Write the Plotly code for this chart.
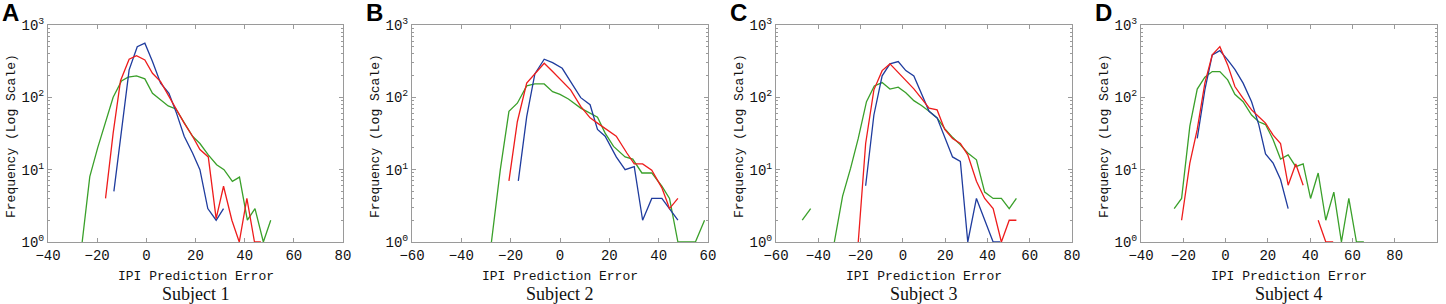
import plotly.graph_objects as go

# ---------------- data ----------------
# Subject 1
s1_green_x = [-26.1, -23.0, -19.8, -16.6, -13.5, -10.1, -7.4, -4.0, -0.6, 2.5, 5.5, 8.9, 12.0, 15.4, 18.8, 21.8, 25.2, 28.6, 31.6, 35.0, 37.9, 41.1, 44.2, 47.6, 50.6]
s1_green_y = [1, 8, 20, 45, 100, 169, 190, 198, 180, 114, 95, 76, 69, 44, 29, 23, 16, 11.7, 10, 6.9, 7.9, 2.0, 2.9, 1, 2.0]
s1_blue_x = [-13.2, -10.1, -7.0, -3.7, -0.6, 2.5, 5.8, 9.2, 12.3, 15.4, 18.8, 21.8, 25.0, 28.4, 31.4]
s1_blue_y = [5.0, 32, 240, 500, 560, 312, 157, 114, 60, 29, 17, 10, 2.9, 2.0, 2.9]
s1_red_x = [-16.6, -13.5, -10.5, -7.0, -4.0, -0.6, 2.5, 5.8, 9.2, 12.3, 15.4, 18.8, 21.8, 25.2, 28.4, 31.4, 34.8, 37.8, 40.9, 44.0, 46.6]
s1_red_y = [4.0, 32, 170, 336, 377, 329, 215, 165, 103, 67, 44, 29, 19, 15, 2.1, 5.9, 2.0, 1, 4.0, 1, 1]

# Subject 2
s2_green_x = [-27.8, -24.2, -20.7, -17.3, -13.5, -10.2, -6.4, -3.0, 0.0, 3.4, 8.4, 12.2, 15.2, 18.3, 21.7, 26.4, 29.5, 33.2, 37.2, 41.3, 44.4, 47.8, 51.3, 54.9, 58.6]
s2_green_y = [1, 10, 64, 83, 144, 153, 153, 120, 110, 95, 71, 60, 53, 32, 21, 15, 14, 9, 9, 5.9, 4.0, 1, 1, 1, 2]
s2_blue_x = [-16.9, -13.5, -10.2, -6.4, -3.0, 0.9, 4.3, 8.4, 12.2, 15.2, 18.3, 22.8, 26.4, 30.1, 33.5, 37.2, 41.3, 47.8]
s2_blue_y = [7.0, 54, 211, 336, 302, 252, 165, 99, 79, 36, 29, 15, 10, 11, 2.0, 4.0, 4.0, 2.0]
s2_red_x = [-20.7, -17.3, -13.5, -10.2, -6.4, -3.0, 0.9, 4.3, 8.4, 12.2, 15.2, 18.3, 22.8, 27.1, 30.1, 33.5, 37.2, 41.3, 44.4, 47.8]
s2_red_y = [7.0, 46, 157, 211, 296, 227, 165, 127, 75, 52, 44, 37, 29, 17, 12, 12, 9.8, 5.6, 2.9, 4.0]

# Subject 3
s3_green_x = [-47.6, -43.6, -39.6, -36.0, -32.4, -28.5, -24.7, -21.1, -17.2, -13.5, -9.8, -6.1, -2.2, 1.4, 5.2, 8.8, 12.4, 16.2, 19.8, 23.5, 27.2, 30.7, 34.8, 38.7, 42.7, 46.6, 50.3, 53.7]
s3_green_y = [2.0, 2.9, None, None, 1, 4.3, 10.5, 27, 87, 144, 160, 130, 138, 116, 90, 77, 64, 52, 37, 28, 22, 17, 13.7, 4.9, 4.0, 4.0, 2.9, 4.0]
s3_blue_x = [-17.6, -13.7, -9.8, -6.1, -2.2, 1.4, 5.2, 8.8, 12.4, 16.2, 19.8, 23.5, 27.2, 30.7, 34.8, 38.7, 42.7, 46.1]
s3_blue_y = [6.0, 57, 198, 290, 312, 234, 198, 114, 64, 52, 29, 15, 13, 1, 4.0, 2.0, 1, 1]
s3_red_x = [-21.1, -17.6, -13.7, -9.8, -6.1, -2.2, 1.4, 5.2, 8.8, 12.4, 16.2, 19.8, 23.5, 27.2, 30.7, 34.8, 38.7, 42.7, 46.6, 50.3, 53.7]
s3_red_y = [1, 23, 127, 234, 290, 222, 174, 131, 97, 71, 67, 36, 27, 23, 16, 6.9, 4.0, 2.9, 1, 2, 2]

# Subject 4
s4_green_x = [-24.3, -20.8, -16.9, -13.4, -9.8, -6.3, -2.7, 1.0, 4.4, 8.3, 12.3, 15.7, 18.9, 22.5, 26.0, 29.6, 33.2, 36.7, 40.2, 43.8, 47.4, 51.2, 54.8, 58.3, 61.9, 65.4]
s4_green_y = [2.9, 4.0, 40, 130, 190, 227, 227, 174, 110, 87, 57, 46, 42, 26, 14, 16, 11, 12, 4.0, 9, 2.0, 4.9, 1, 4.0, 1, 1]
s4_blue_x = [-13.4, -9.8, -6.3, -2.7, 1.0, 4.4, 8.3, 12.3, 15.7, 18.9, 22.5, 26.0, 29.6]
s4_blue_y = [27, 127, 386, 443, 329, 244, 157, 87, 42, 16.5, 12.3, 7.3, 2.9]
s4_red_x = [-20.8, -16.9, -13.4, -9.8, -6.3, -2.7, 1.0, 4.4, 8.3, 12.3, 15.7, 18.9, 22.5, 26.0, 29.6, 33.2, 36.7, 40.2, 43.8, 47.4, 50.9]
s4_red_y = [2.0, 12.3, 36, 157, 386, 502, 281, 141, 97, 67, 54, 44, 30, 23, 6.1, 12, 6.1, None, 2.0, 1, 1]

subjects = ["Subject 1", "Subject 2", "Subject 3", "Subject 4"]
letters = ["A", "B", "C", "D"]
x_ranges = [[-40, 80], [-60, 60], [-60, 80], [-40, 100]]
y_tickvals = [1, 10, 100, 1000]
y_ticktext = ["10<sup>0</sup>", "10<sup>1</sup>", "10<sup>2</sup>", "10<sup>3</sup>"]
x_title = "IPI Prediction Error"
y_title = "Frequency (Log Scale)"

series = [
    [(s1_green_x, s1_green_y), (s1_blue_x, s1_blue_y), (s1_red_x, s1_red_y)],
    [(s2_green_x, s2_green_y), (s2_blue_x, s2_blue_y), (s2_red_x, s2_red_y)],
    [(s3_green_x, s3_green_y), (s3_blue_x, s3_blue_y), (s3_red_x, s3_red_y)],
    [(s4_green_x, s4_green_y), (s4_blue_x, s4_blue_y), (s4_red_x, s4_red_y)],
]
colors = ["#3aa02a", "#1f3c9e", "#ee1c1c"]

# ---------------- layout ----------------
W, H = 1446, 304
px_left = [48, 412, 776, 1141]
px_right = [343, 708, 1072, 1437]
y_top, y_bot = 25, 242

fig = go.Figure()
mono = "Liberation Mono"
frame = "#9a9a9a"
minor_vals = [m * d for d in (1, 10, 100) for m in range(2, 10)]

annotations = []
for i in range(4):
    ax = "" if i == 0 else str(i + 1)
    for (xs, ys), c in zip(series[i], colors):
        fig.add_trace(go.Scatter(x=xs, y=ys, mode="lines", line=dict(color=c, width=1.3),
                                 xaxis="x" + ax, yaxis="y" + ax, showlegend=False,
                                 connectgaps=False))
    dom_x = [px_left[i] / W, px_right[i] / W]
    dom_y = [1 - y_bot / H, 1 - y_top / H]
    fig.layout["xaxis" + ax] = dict(
        domain=dom_x, anchor="y" + ax, range=x_ranges[i], dtick=20, tick0=0,
        automargin=False,
        showgrid=False, zeroline=False, showline=True, linecolor=frame, linewidth=1,
        mirror="ticks", ticks="inside", ticklen=4, tickcolor=frame,
        tickfont=dict(family=mono, size=14, color="#111"),
    )
    fig.layout["yaxis" + ax] = dict(
        domain=dom_y, anchor="x" + ax, type="log", range=[0, 3],
        automargin=False,
        tickmode="array", tickvals=y_tickvals, ticktext=y_ticktext,
        showgrid=False, zeroline=False, showline=True, linecolor=frame, linewidth=1,
        mirror="ticks", ticks="inside", ticklen=4, tickcolor=frame,
        minor=dict(tickmode="array", tickvals=minor_vals, ticks="inside", ticklen=2,
                   tickcolor=frame, showgrid=False),
        tickfont=dict(family=mono, size=14, color="#111"),
    )
    cx = (px_left[i] + px_right[i]) / 2 / W
    annotations.append(dict(text=x_title, x=cx, y=1 - 276 / H, xref="paper", yref="paper",
                            showarrow=False, font=dict(family=mono, size=13, color="#111"),
                            xanchor="center", yanchor="middle"))
    annotations.append(dict(text=subjects[i], x=cx, y=1 - 294 / H, xref="paper", yref="paper",
                            showarrow=False, font=dict(family="Liberation Serif", size=18, color="#111"),
                            xanchor="center", yanchor="middle"))
    annotations.append(dict(text=y_title, x=(px_left[i] - 37) / W, y=1 - 136 / H,
                            xref="paper", yref="paper", textangle=-90,
                            showarrow=False, font=dict(family=mono, size=13, color="#111"),
                            xanchor="center", yanchor="middle"))
    annotations.append(dict(text="<b>" + letters[i] + "</b>", x=(px_left[i] - 48) / W, y=1 - 12 / H,
                            xref="paper", yref="paper", showarrow=False,
                            font=dict(family="Liberation Sans", size=24, color="#000"),
                            xanchor="left", yanchor="middle"))

fig.update_layout(width=W, height=H, margin=dict(l=0, r=0, t=0, b=0, autoexpand=False),
                  paper_bgcolor="white", plot_bgcolor="white",
                  annotations=annotations)

fig.write_html("out.html", config={"displayModeBar": False},
               post_script="document.body.style.margin='0';document.body.style.padding='0';")
